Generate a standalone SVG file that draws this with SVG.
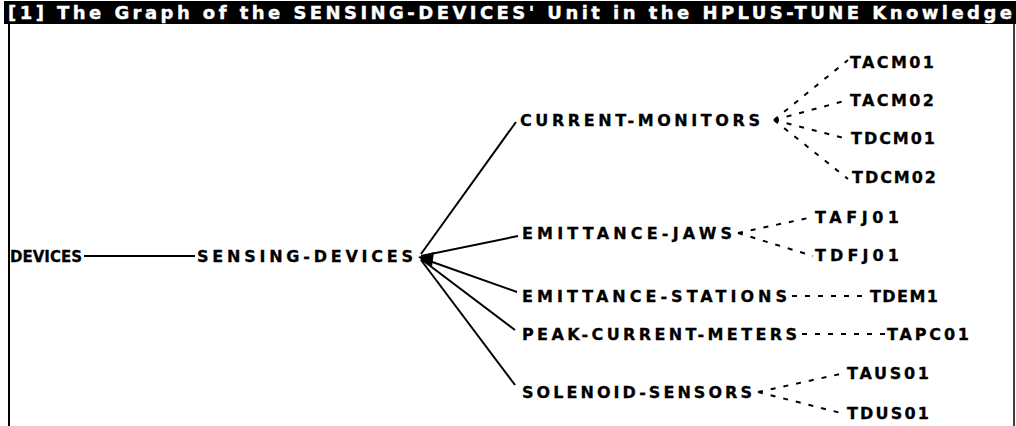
<svg xmlns="http://www.w3.org/2000/svg" width="1016" height="426" viewBox="0 0 1016 426">
<style>
.lbl{font-family:"DejaVu Sans","Liberation Sans",sans-serif;font-weight:bold;font-size:16px;fill:#000;stroke:#000;stroke-width:0.3}
.sm{font-size:15px}
.ttl{font-family:"DejaVu Sans","Liberation Sans",sans-serif;font-weight:bold;font-size:18px;fill:#fff;stroke:#fff;stroke-width:0.4}
.solid{stroke:#000;stroke-width:2;fill:none}
.dash{stroke:#000;stroke-width:2;fill:none;stroke-dasharray:5 8}
</style>
<rect x="0" y="0" width="1016" height="426" fill="#fff"/>
<g id="frame">
<rect x="4" y="1" width="1012" height="23" fill="#000"/>
<text class="ttl" x="8" y="19" textLength="1004" lengthAdjust="spacing">[1] The Graph of the SENSING-DEVICES' Unit in the HPLUS-TUNE Knowledge</text>
<line x1="9" y1="24" x2="9" y2="426" stroke="#000" stroke-width="2"/>
<line x1="1014" y1="24" x2="1014" y2="426" stroke="#000" stroke-width="1.5"/>
</g>
<g id="connectors">
<line class="solid" x1="84" y1="256" x2="195" y2="256"/>
<line class="solid" x1="421" y1="254" x2="516" y2="122"/>
<line class="solid" x1="421" y1="256" x2="518" y2="236"/>
<line class="solid" x1="421" y1="258" x2="517" y2="292"/>
<line class="solid" x1="421" y1="259" x2="515" y2="330"/>
<line class="solid" x1="421" y1="260" x2="515" y2="385"/>
<polygon points="418,257 434,252 432,267" fill="#000"/>
<path class="dash" d="M774,120 L848,60 M774,120 L848,100 M774,120 L848,139 M774,120 L848,179"/>
<path class="dash" d="M738,233 L813,217 M738,233 L813,256"/>
<path class="dash" d="M792,296 L868,296"/>
<path class="dash" d="M802,334 L885,334"/>
<path class="dash" d="M758,392 L845,373 M758,392 L845,414"/>
</g>
<g id="n-devices"><text class="lbl sm" x="10" y="262" textLength="72" lengthAdjust="spacing">DEVICES</text></g>
<g id="n-sensing-devices"><text class="lbl" x="197" y="262" textLength="216" lengthAdjust="spacing">SENSING-DEVICES</text></g>
<g id="n-current-monitors"><text class="lbl" x="520" y="126" textLength="240" lengthAdjust="spacing">CURRENT-MONITORS</text></g>
<g id="n-tacm01"><text class="lbl" x="850" y="68" textLength="84" lengthAdjust="spacing">TACM01</text></g>
<g id="n-tacm02"><text class="lbl" x="850" y="106" textLength="84" lengthAdjust="spacing">TACM02</text></g>
<g id="n-tdcm01"><text class="lbl" x="851" y="144" textLength="84" lengthAdjust="spacing">TDCM01</text></g>
<g id="n-tdcm02"><text class="lbl" x="852" y="183" textLength="84" lengthAdjust="spacing">TDCM02</text></g>
<g id="n-emittance-jaws"><text class="lbl" x="522" y="239" textLength="210" lengthAdjust="spacing">EMITTANCE-JAWS</text></g>
<g id="n-tafj01"><text class="lbl" x="815" y="223" textLength="84" lengthAdjust="spacing">TAFJ01</text></g>
<g id="n-tdfj01"><text class="lbl" x="815" y="261" textLength="84" lengthAdjust="spacing">TDFJ01</text></g>
<g id="n-emittance-stations"><text class="lbl" x="522" y="302" textLength="265" lengthAdjust="spacing">EMITTANCE-STATIONS</text></g>
<g id="n-tdem1"><text class="lbl" x="870" y="302" textLength="68" lengthAdjust="spacing">TDEM1</text></g>
<g id="n-peak-current-meters"><text class="lbl" x="522" y="340" textLength="275" lengthAdjust="spacing">PEAK-CURRENT-METERS</text></g>
<g id="n-tapc01"><text class="lbl" x="887" y="340" textLength="82" lengthAdjust="spacing">TAPC01</text></g>
<g id="n-solenoid-sensors"><text class="lbl" x="522" y="398" textLength="230" lengthAdjust="spacing">SOLENOID-SENSORS</text></g>
<g id="n-taus01"><text class="lbl" x="847" y="379" textLength="82" lengthAdjust="spacing">TAUS01</text></g>
<g id="n-tdus01"><text class="lbl" x="847" y="419" textLength="82" lengthAdjust="spacing">TDUS01</text></g>
</svg>
